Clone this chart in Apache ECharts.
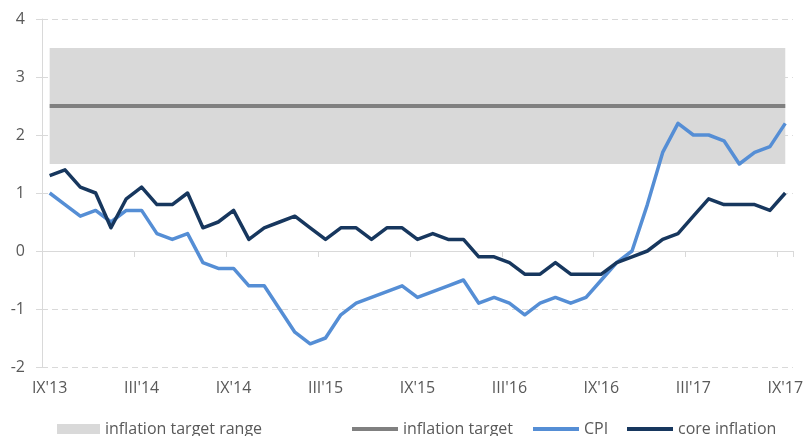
<!DOCTYPE html>
<html>
<head>
<meta charset="utf-8">
<script src="https://cdn.jsdelivr.net/npm/echarts@6/dist/echarts.min.js"></script>
<style>
  html, body { margin: 0; padding: 0; background: #ffffff; }
  #chart { width: 806px; height: 436px; }
</style>
</head>
<body>
<div id="chart"></div>
<script>
// Monthly observations, September 2013 – September 2017 (y/y, %)
const months = [
  "IX'13", "X'13", "XI'13", "XII'13",
  "I'14", "II'14", "III'14", "IV'14", "V'14", "VI'14", "VII'14", "VIII'14", "IX'14", "X'14", "XI'14", "XII'14",
  "I'15", "II'15", "III'15", "IV'15", "V'15", "VI'15", "VII'15", "VIII'15", "IX'15", "X'15", "XI'15", "XII'15",
  "I'16", "II'16", "III'16", "IV'16", "V'16", "VI'16", "VII'16", "VIII'16", "IX'16", "X'16", "XI'16", "XII'16",
  "I'17", "II'17", "III'17", "IV'17", "V'17", "VI'17", "VII'17", "VIII'17", "IX'17"
];

const cpi = [
  1.0, 0.8, 0.6, 0.7,
  0.5, 0.7, 0.7, 0.3, 0.2, 0.3, -0.2, -0.3, -0.3, -0.6, -0.6, -1.0,
  -1.4, -1.6, -1.5, -1.1, -0.9, -0.8, -0.7, -0.6, -0.8, -0.7, -0.6, -0.5,
  -0.9, -0.8, -0.9, -1.1, -0.9, -0.8, -0.9, -0.8, -0.5, -0.2, 0.0, 0.8,
  1.7, 2.2, 2.0, 2.0, 1.9, 1.5, 1.7, 1.8, 2.2
];

const coreInflation = [
  1.3, 1.4, 1.1, 1.0,
  0.4, 0.9, 1.1, 0.8, 0.8, 1.0, 0.4, 0.5, 0.7, 0.2, 0.4, 0.5,
  0.6, 0.4, 0.2, 0.4, 0.4, 0.2, 0.4, 0.4, 0.2, 0.3, 0.2, 0.2,
  -0.1, -0.1, -0.2, -0.4, -0.4, -0.2, -0.4, -0.4, -0.4, -0.2, -0.1, 0.0,
  0.2, 0.3, 0.6, 0.9, 0.8, 0.8, 0.8, 0.7, 1.0
];

// Inflation target and its tolerance band
const inflationTarget = 2.5;
const targetRangeLow = 1.5;
const targetRangeHigh = 3.5;

// Y axis range
const yMin = -2;
const yMax = 4;

const textColor = '#595959';
const gridColor = '#d9d9d9';
const fontFamily = "'Open Sans', 'Liberation Sans', sans-serif";
const fontSize = 16;

// Band drawn as a stacked area: an opaque white base up to the lower bound,
// then the grey tolerance band on top of it.
const bandBase = months.map(() => targetRangeLow);
const bandWidth = months.map(() => targetRangeHigh - targetRangeLow);
const targetLine = months.map(() => inflationTarget);

const chart = echarts.init(document.getElementById('chart'), null, { renderer: 'canvas' });

const legendText = { color: textColor, fontSize: fontSize, fontFamily: fontFamily };

function legendItem(name, left, width, height) {
  return {
    data: [name],
    left: left, top: 421, padding: 0,
    icon: 'rect', itemWidth: width, itemHeight: height, itemGap: 0,
    textStyle: legendText
  };
}

chart.setOption({
  animation: false,
  backgroundColor: '#ffffff',
  grid: { left: 42, right: 10, top: 19, bottom: 69, containLabel: false },
  xAxis: [
    {
      type: 'category',
      data: months,
      boundaryGap: true,
      axisLine: { onZero: true, lineStyle: { color: gridColor, width: 1 } },
      axisTick: { show: true, interval: 5, length: 6, lineStyle: { color: gridColor } },
      axisLabel: { show: false },
      splitLine: { show: false }
    },
    {
      type: 'category',
      data: months,
      boundaryGap: true,
      position: 'bottom',
      axisLine: { show: false, onZero: false },
      axisTick: { show: false },
      axisLabel: {
        interval: 5,
        margin: 13,
        color: textColor,
        fontSize: fontSize,
        fontFamily: fontFamily
      },
      splitLine: { show: false }
    }
  ],
  yAxis: {
    type: 'value',
    min: yMin,
    max: yMax,
    interval: 1,
    axisLine: { show: true, lineStyle: { color: gridColor } },
    axisTick: { show: true, length: 6, lineStyle: { color: gridColor } },
    axisLabel: { margin: 17, color: textColor, fontSize: fontSize, fontFamily: fontFamily },
    splitLine: { show: true, lineStyle: { color: gridColor, type: [6, 4], width: 1 } }
  },
  legend: [
    legendItem('inflation target range', 57, 43, 10),
    legendItem('inflation target', 352, 46, 4),
    legendItem('CPI', 533, 46, 4),
    legendItem('core inflation', 627, 46, 4)
  ],
  series: [
    {
      name: 'band base',
      type: 'line',
      stack: 'band',
      data: bandBase,
      symbol: 'none',
      silent: true,
      lineStyle: { width: 0 },
      itemStyle: { color: '#ffffff' },
      areaStyle: { color: '#ffffff', opacity: 1 }
    },
    {
      name: 'inflation target range',
      type: 'line',
      stack: 'band',
      data: bandWidth,
      symbol: 'none',
      silent: true,
      lineStyle: { width: 0 },
      itemStyle: { color: '#d9d9d9' },
      areaStyle: { color: '#d9d9d9', opacity: 1 }
    },
    {
      name: 'inflation target',
      type: 'line',
      data: targetLine,
      symbol: 'none',
      itemStyle: { color: '#808080' },
      lineStyle: { color: '#808080', width: 4 }
    },
    {
      name: 'CPI',
      type: 'line',
      data: cpi,
      symbol: 'none',
      itemStyle: { color: '#558ed5' },
      lineStyle: { color: '#558ed5', width: 3.5, join: 'round' }
    },
    {
      name: 'core inflation',
      type: 'line',
      data: coreInflation,
      symbol: 'none',
      itemStyle: { color: '#17375e' },
      lineStyle: { color: '#17375e', width: 3.5, join: 'round' }
    }
  ]
});
</script>
</body>
</html>
